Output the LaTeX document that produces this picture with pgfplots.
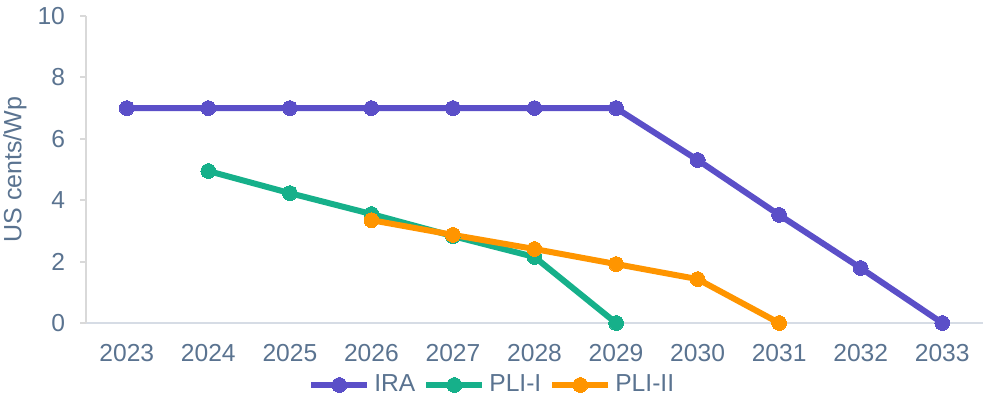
\documentclass[border=0pt]{standalone}
\usepackage{pgfplots}
\pgfplotsset{compat=1.18}
\usepackage{fontspec}
\setmainfont{Liberation Sans}
\definecolor{ira}{HTML}{5B4FC8}
\definecolor{plione}{HTML}{16B08A}
\definecolor{plitwo}{HTML}{FF9500}
\definecolor{txt}{HTML}{5A7390}
\definecolor{yax}{HTML}{D9D9D9}
\definecolor{xax}{HTML}{D6DCE5}
\begin{document}
\begin{tikzpicture}
\path[use as bounding box] (0,0) rectangle (491.5pt,203.5pt);
\begin{axis}[
  at={(43pt,42pt)}, anchor=south west,
  scale only axis, width=448.5pt, height=153.5pt,
  xmin=-0.5, xmax=10.5, ymin=0, ymax=10,
  axis x line*=bottom, axis y line*=left,
  x axis line style={xax, line width=1pt, -},
  y axis line style={yax, line width=1pt, -},
  xtick={0,...,10},
  xticklabels={2023,2024,2025,2026,2027,2028,2029,2030,2031,2032,2033},
  ytick={0,2,...,10},
  major x tick style={draw=none},
  major y tick style={yax, line width=1pt},
  tick align=outside, major tick length=3pt,
  every tick label/.append style={font=\fontsize{12.3}{14}\selectfont, text=txt},
  xticklabel style={yshift=-4pt},
  yticklabel style={xshift=-4pt},
  /pgf/number format/assume math mode=true,
  ylabel={US cents/Wp},
  every axis y label/.style={at={(axis description cs:0,0.5)}, rotate=90, anchor=center, yshift=35.5pt, font=\fontsize{12.5}{14}\selectfont, text=txt},
  legend columns=3,
  legend style={draw=none, at={(0.454,-0.202)}, anchor=center,
     font=\fontsize{12.3}{14}\selectfont, text=txt,
     /tikz/every even column/.append style={column sep=2pt}},
  legend image code/.code={\draw[mark repeat=2,mark phase=2,#1] plot coordinates {(0pt,0pt) (14pt,0pt) (28pt,0pt)};},
  every axis plot/.append style={line width=3pt, mark=*, mark size=3.7pt},
  clip=false,
]
\addplot[color=ira, mark options={fill=ira, draw=ira, line width=0pt}] coordinates {
(0,7) (1,7) (2,7) (3,7) (4,7) (5,7) (6,7) (7,5.31) (8,3.52) (9,1.79) (10,0)};
\addlegendentry{IRA}
\addplot[color=plione, mark options={fill=plione, draw=plione, line width=0pt}] coordinates {
(1,4.95) (2,4.23) (3,3.55) (4,2.83) (5,2.15) (6,0)};
\addlegendentry{PLI-I}
\addplot[color=plitwo, mark options={fill=plitwo, draw=plitwo, line width=0pt}] coordinates {
(3,3.35) (4,2.87) (5,2.41) (6,1.92) (7,1.43) (8,0)};
\addlegendentry{PLI-II}
\end{axis}
\end{tikzpicture}
\end{document}
